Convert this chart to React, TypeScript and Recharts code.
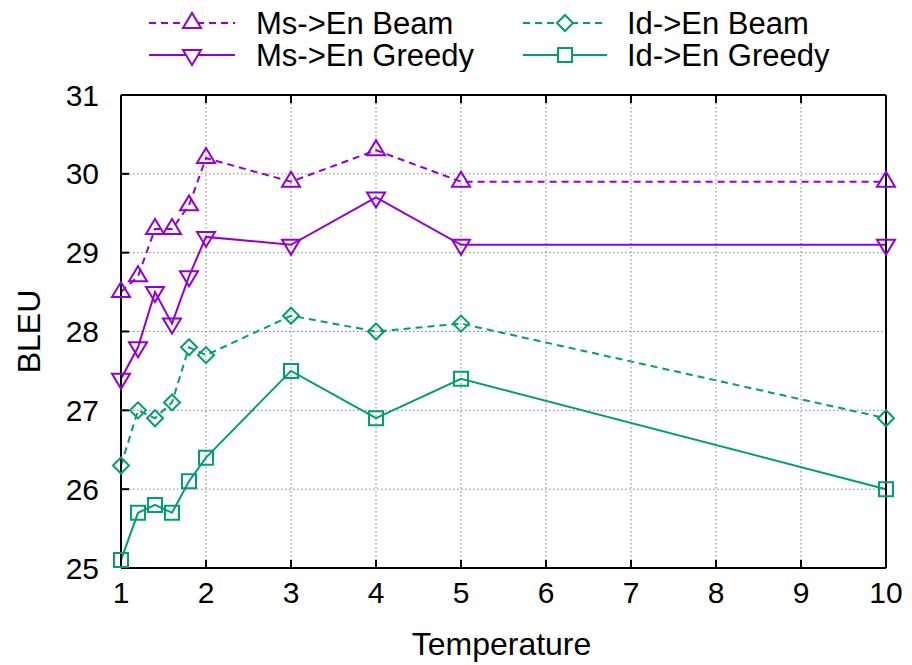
import React from "react";
import {
  CartesianGrid,
  Legend,
  Line,
  LineChart,
  XAxis,
  YAxis,
} from "recharts";

const temperatures = [1, 1.2, 1.4, 1.6, 1.8, 2, 3, 4, 5, 10];
const msBeam = [28.5, 28.7, 29.3, 29.3, 29.6, 30.2, 29.9, 30.3, 29.9, 29.9];
const msGreedy = [27.4, 27.8, 28.5, 28.1, 28.7, 29.2, 29.1, 29.7, 29.1, 29.1];
const idBeam = [26.3, 27.0, 26.9, 27.1, 27.8, 27.7, 28.2, 28.0, 28.1, 26.9];
const idGreedy = [25.1, 25.7, 25.8, 25.7, 26.1, 26.4, 27.5, 26.9, 27.4, 26.0];

const xTicks = [1, 2, 3, 4, 5, 6, 7, 8, 9, 10];
const yTicks = [25, 26, 27, 28, 29, 30, 31];

const PURPLE = "#9400d3";
const GREEN = "#009e73";
const FONT = "'Liberation Sans', Arial, sans-serif";

type Marker = "up" | "down" | "diamond" | "square";

const seriesList: {
  key: string;
  name: string;
  color: string;
  dashed: boolean;
  marker: Marker;
}[] = [
  { key: "msBeam", name: "Ms->En Beam", color: PURPLE, dashed: true, marker: "up" },
  { key: "msGreedy", name: "Ms->En Greedy", color: PURPLE, dashed: false, marker: "down" },
  { key: "idBeam", name: "Id->En Beam", color: GREEN, dashed: true, marker: "diamond" },
  { key: "idGreedy", name: "Id->En Greedy", color: GREEN, dashed: false, marker: "square" },
];

const data = temperatures.map((t, i) => ({
  t,
  msBeam: msBeam[i],
  msGreedy: msGreedy[i],
  idBeam: idBeam[i],
  idGreedy: idGreedy[i],
}));

function markerPath(kind: Marker, cx: number, cy: number) {
  switch (kind) {
    case "up":
      return `M${cx - 9},${cy + 5}L${cx + 9},${cy + 5}L${cx},${cy - 10}Z`;
    case "down":
      return `M${cx - 9},${cy - 5}L${cx + 9},${cy - 5}L${cx},${cy + 10}Z`;
    case "diamond":
      return `M${cx},${cy - 8}L${cx + 8},${cy}L${cx},${cy + 8}L${cx - 8},${cy}Z`;
    default:
      return `M${cx - 7},${cy - 7}L${cx + 7},${cy - 7}L${cx + 7},${cy + 7}L${cx - 7},${cy + 7}Z`;
  }
}

function makeDot(kind: Marker, color: string) {
  return (props: any) => {
    const { cx, cy, index } = props;
    if (cx == null || cy == null) return <g key={`d-${index}`} />;
    return (
      <path
        key={`d-${kind}-${index}`}
        d={markerPath(kind, cx, cy)}
        fill="none"
        stroke={color}
        strokeWidth={2}
      />
    );
  };
}

function KeyBox() {
  const cols = [
    { x1: 149, x2: 235, mx: 192, tx: 256 },
    { x1: 523, x2: 607, mx: 565, tx: 627 },
  ];
  const rows = [23, 55];
  return (
    <svg width={912} height={72} style={{ display: "block" }}>
      {seriesList.map((s, i) => {
        const c = cols[Math.floor(i / 2)];
        const y = rows[i % 2];
        return (
          <g key={s.key}>
            <line
              x1={c.x1}
              x2={c.x2}
              y1={y}
              y2={y}
              stroke={s.color}
              strokeWidth={2}
              strokeDasharray={s.dashed ? "7 5" : undefined}
            />
            <path d={markerPath(s.marker, c.mx, y)} fill="#fff" stroke={s.color} strokeWidth={2} />
            <text x={c.tx} y={y + 11} fontSize={31} fontFamily={FONT} fill="#000">
              {s.name}
            </text>
          </g>
        );
      })}
    </svg>
  );
}

export default function App() {
  const tickStyle = { fontSize: 30, fill: "#000", fontFamily: FONT };
  return (
    <div style={{ position: "absolute", left: 0, top: 0, fontFamily: FONT }}>
      <LineChart
        width={912}
        height={665}
        data={data}
        margin={{ top: 75, right: 6, bottom: 17, left: 21 }}
      >
        <CartesianGrid
          xAxisId="bottom"
          yAxisId="left"
          stroke="#808080"
          strokeDasharray="1.5 2.5"
        />
        <XAxis
          xAxisId="bottom"
          dataKey="t"
          type="number"
          domain={[1, 10]}
          ticks={xTicks}
          height={80}
          stroke="#000"
          strokeWidth={2}
          tickSize={-8}
          tickMargin={22}
          tick={tickStyle}
          label={(p: any) => {
            const vb = p.viewBox;
            return (
              <text
                x={vb.x + vb.width / 2 - 2}
                y={vb.y + 87}
                textAnchor="middle"
                fontSize={32}
                fontFamily={FONT}
                fill="#000"
              >
                Temperature
              </text>
            );
          }}
        />
        <XAxis
          xAxisId="top"
          orientation="top"
          dataKey="t"
          type="number"
          domain={[1, 10]}
          ticks={xTicks}
          height={20}
          stroke="#000"
          strokeWidth={2}
          tickSize={-8}
          tickFormatter={() => ""}
        />
        <YAxis
          yAxisId="left"
          type="number"
          domain={[25, 31]}
          ticks={yTicks}
          width={100}
          stroke="#000"
          strokeWidth={2}
          tickSize={-8}
          tickMargin={30}
          tick={tickStyle}
          label={(p: any) => {
            const vb = p.viewBox;
            const cx = vb.x + 8;
            const cy = vb.y + vb.height / 2;
            return (
              <text
                x={cx}
                y={cy}
                transform={`rotate(-90 ${cx} ${cy})`}
                textAnchor="middle"
                dominantBaseline="central"
                fontSize={32}
                fontFamily={FONT}
                fill="#000"
              >
                BLEU
              </text>
            );
          }}
        />
        <YAxis
          yAxisId="right"
          orientation="right"
          type="number"
          domain={[25, 31]}
          ticks={yTicks}
          width={20}
          stroke="#000"
          strokeWidth={2}
          tickSize={-8}
          tickFormatter={() => ""}
        />
        <Legend
          layout="horizontal"
          verticalAlign="middle"
          align="center"
          wrapperStyle={{ top: 0, left: 0, width: 912, height: 72 }}
          content={() => <KeyBox />}
        />
        {seriesList.map((s) => (
          <Line
            key={s.key}
            xAxisId="bottom"
            yAxisId="left"
            type="linear"
            dataKey={s.key}
            name={s.name}
            stroke={s.color}
            strokeWidth={2}
            strokeDasharray={s.dashed ? "7 5" : undefined}
            dot={makeDot(s.marker, s.color)}
            activeDot={false}
            isAnimationActive={false}
          />
        ))}
      </LineChart>
    </div>
  );
}
